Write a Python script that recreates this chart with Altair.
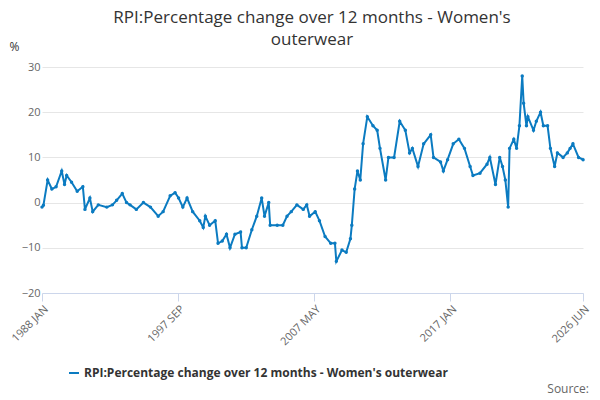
import pandas as pd
import altair as alt

# decimal year positions and values
years = [1988.0, 1988.1, 1988.4, 1988.7, 1989.0, 1989.4, 1989.6, 1989.75, 1990.1, 1990.5, 1990.9,
         1991.05, 1991.4, 1991.6, 1992.0, 1992.6, 1993.0, 1993.3, 1993.7, 1994.0, 1994.25, 1994.7,
         1995.2, 1995.7, 1996.25, 1996.6, 1997.1, 1997.45, 1997.7, 1998.0, 1998.3, 1998.7,
         1999.2, 1999.45, 1999.6, 1999.9, 2000.3, 2000.5, 2000.8, 2001.1, 2001.35, 2001.7,
         2002.1, 2002.2, 2002.5, 2002.9, 2003.25, 2003.6, 2003.8, 2004.1, 2004.2, 2004.7,
         2005.1, 2005.4, 2005.7, 2006.1, 2006.55, 2006.8, 2007.0, 2007.4, 2007.7, 2008.1,
         2008.5, 2008.8, 2008.9, 2009.3, 2009.6, 2009.9, 2010.0, 2010.2, 2010.4, 2010.6,
         2010.8, 2011.1, 2011.5, 2011.8, 2012.0, 2012.4, 2012.6, 2013.0, 2013.4, 2013.8,
         2014.1, 2014.3, 2014.7, 2015.1, 2015.6, 2015.8, 2016.3, 2016.5, 2016.8, 2017.2,
         2017.6, 2018.0, 2018.4, 2018.6, 2019.1, 2019.6, 2019.8, 2020.2, 2020.5, 2020.7,
         2020.9, 2021.1, 2021.2, 2021.5, 2021.7, 2021.9, 2022.1, 2022.2, 2022.4, 2022.5,
         2022.9, 2023.1, 2023.4, 2023.6, 2023.9, 2024.1, 2024.4, 2024.6, 2025.0, 2025.3,
         2025.5, 2025.7, 2026.1, 2026.42]
values = [-1.0, -0.6, 5.0, 3.0, 3.5, 7.0, 4.0, 6.0, 4.5, 2.5, 3.5,
          -1.5, 1.0, -2.0, -0.5, -1.0, -0.5, 0.5, 2.0, 0.0, -0.5, -1.5,
          0.0, -1.0, -3.0, -2.0, 1.5, 2.2, 1.0, -1.0, 1.0, -2.0,
          -4.0, -5.5, -3.0, -5.0, -4.0, -9.0, -8.5, -7.0, -10.0, -7.0,
          -6.5, -10.0, -10.0, -6.0, -3.0, 1.0, -3.0, 0.0, -5.0, -5.0,
          -5.0, -3.0, -2.0, -0.5, -1.5, -0.5, -3.0, -2.0, -4.0, -7.5,
          -9.0, -9.0, -13.0, -10.5, -11.0, -8.0, -5.0, 3.0, 7.0, 5.0,
          13.0, 19.0, 17.0, 16.0, 12.0, 5.0, 10.0, 10.0, 18.0, 16.0,
          11.0, 12.0, 8.0, 13.0, 15.0, 10.0, 9.0, 7.0, 9.5, 13.0,
          14.0, 12.0, 8.0, 6.0, 6.5, 8.5, 10.0, 4.0, 10.0, 8.0,
          5.0, -1.0, 12.0, 14.0, 12.0, 17.0, 28.0, 22.0, 17.0, 19.0,
          16.0, 18.0, 20.0, 17.0, 17.0, 12.0, 8.0, 11.0, 10.0, 11.0,
          12.0, 13.0, 10.0, 9.5]
series_name = "RPI:Percentage change over 12 months - Women's outerwear"
title_lines = ["RPI:Percentage change over 12 months - Women's", "outerwear"]
tick_dates = ["1988-01-01", "1997-09-01", "2007-05-01", "2017-01-01", "2026-06-01"]

df = pd.DataFrame({"yr": years, "value": values})
df["date"] = pd.to_datetime("1988-01-01") + pd.to_timedelta((df["yr"] - 1988) * 365.25, unit="D")
df["series"] = series_name

blue = "#0b7bc1"
font = "Open Sans"

base = alt.Chart(df).encode(
    x=alt.X("date:T", title=None,
            scale=alt.Scale(domain=["1988-01-01", "2026-06-01"]),
            axis=alt.Axis(values=[pd.Timestamp(d).isoformat() for d in tick_dates],
                          labelExpr="upper(timeFormat(datum.value, '%Y %b'))",
                          labelAngle=-45, labelAlign="right", labelColor="#666",
                          labelFontSize=11, grid=False, domainColor="#ccd6eb",
                          tickColor="#ccd6eb", tickSize=8)),
    y=alt.Y("value:Q", title="%",
            scale=alt.Scale(domain=[-20, 30], nice=False),
            axis=alt.Axis(values=[-20, -10, 0, 10, 20, 30], domain=False, ticks=False,
                          gridColor="#e6e6e6", labelColor="#666", labelFontSize=11,
                          titleAngle=0, titleX=-28, titleY=-14, titleFontWeight="normal",
                          titleColor="#333", titleFontSize=12)),
    color=alt.Color("series:N", scale=alt.Scale(range=[blue]),
                    legend=alt.Legend(title=None, orient="none", legendX=26, legendY=300,
                                      symbolType="stroke", symbolStrokeWidth=2,
                                      labelFontSize=12, labelFontWeight="bold",
                                      labelColor="#333", labelLimit=500)),
)

line = base.mark_line(strokeWidth=2)
pts = base.mark_point(filled=True, size=12, opacity=1)

source = alt.Chart(pd.DataFrame({"t": ["Source:"]})).mark_text(
    align="right", fontSize=12, color="#666", font=font
).encode(text="t:N", x=alt.value(547), y=alt.value(322))

title1 = alt.Chart(pd.DataFrame({"t": [title_lines[0]]})).mark_text(
    align="center", fontSize=17, color="#333", font=font
).encode(text="t:N", x=alt.value(270), y=alt.value(-49))
title2 = alt.Chart(pd.DataFrame({"t": [title_lines[1]]})).mark_text(
    align="center", fontSize=17, color="#333", font=font
).encode(text="t:N", x=alt.value(270), y=alt.value(-27))

chart = alt.layer(line, pts, source, title1, title2).properties(
    width=541, height=226,
    autosize=alt.AutoSizeParams(type="none"),
    padding={"left": 34, "top": 59, "right": 9, "bottom": 100},
).configure(font=font).configure_view(stroke=None)

chart.save("out.html", embed_options={"renderer": "svg", "actions": False})
